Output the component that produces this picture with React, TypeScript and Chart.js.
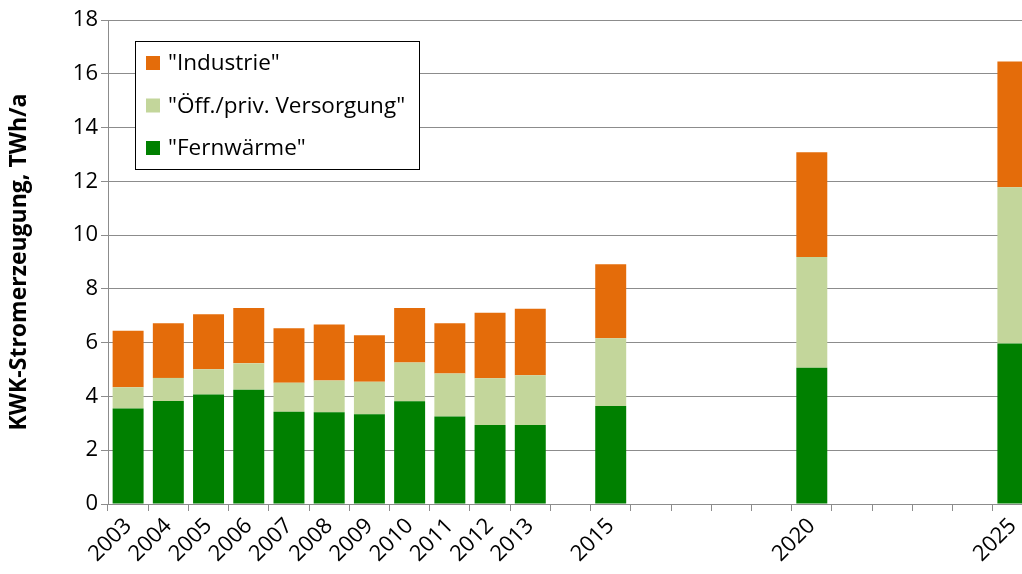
import React, { useEffect, useRef } from "react";
import { Chart, registerables } from "chart.js";

Chart.register(...registerables);

const years = [
  "2003", "2004", "2005", "2006", "2007", "2008", "2009", "2010", "2011", "2012", "2013",
  "2014", "2015", "2016", "2017", "2018", "2019", "2020", "2021", "2022", "2023", "2024", "2025",
];
const shownYearLabels = [
  "2003", "2004", "2005", "2006", "2007", "2008", "2009", "2010", "2011", "2012", "2013",
  "2015", "2020", "2025",
];
const fernwaerme = [
  3.55, 3.83, 4.07, 4.25, 3.43, 3.41, 3.34, 3.82, 3.25, 2.94, 2.94,
  null, 3.64, null, null, null, null, 5.07, null, null, null, null, 5.97,
];
const versorgung = [
  0.79, 0.86, 0.94, 0.98, 1.08, 1.18, 1.21, 1.44, 1.6, 1.74, 1.85,
  null, 2.52, null, null, null, null, 4.12, null, null, null, null, 5.81,
];
const industrie = [
  2.1, 2.03, 2.05, 2.06, 2.03, 2.09, 1.73, 2.03, 1.87, 2.43, 2.47,
  null, 2.76, null, null, null, null, 3.89, null, null, null, null, 4.68,
];
const seriesNames = ['"Fernwärme"', '"Öff./priv. Versorgung"', '"Industrie"'];
const seriesColors = ["#008000", "#C3D69B", "#E46C0A"];
const yAxisTitle = "KWK-Stromerzeugung, TWh/a";

const FONT = "'Open Sans', sans-serif";
const GRID = "#8c8c8c";

const legendBoxPlugin = {
  id: "legendBox",
  afterDraw(chart: any) {
    const ctx = chart.ctx;
    ctx.save();
    const x = 135.5, y = 41.5, w = 284, h = 128;
    ctx.fillStyle = "#ffffff";
    ctx.fillRect(x, y, w, h);
    ctx.strokeStyle = "#000000";
    ctx.lineWidth = 1;
    ctx.strokeRect(x, y, w, h);
    const items = [...chart.data.datasets].reverse();
    const rows = [63, 105.5, 148];
    items.forEach((ds: any, i: number) => {
      ctx.fillStyle = ds.backgroundColor;
      ctx.fillRect(146, rows[i] - 7, 14, 14);
      ctx.fillStyle = "#000000";
      ctx.font = `22.5px ${FONT}`;
      ctx.textBaseline = "middle";
      ctx.textAlign = "left";
      ctx.fillText(ds.label, 168, rows[i] + 1);
    });
    ctx.restore();
  },
};

export default function App() {
  const canvasRef = useRef<HTMLCanvasElement | null>(null);

  useEffect(() => {
    if (!canvasRef.current) return;
    const values = [fernwaerme, versorgung, industrie];
    const chart = new Chart(canvasRef.current, {
      type: "bar",
      data: {
        labels: years,
        datasets: values.map((v, i) => ({
          label: seriesNames[i],
          data: v,
          backgroundColor: seriesColors[i],
          borderWidth: 0,
          barPercentage: 0.77,
          categoryPercentage: 1,
        })),
      },
      options: {
        responsive: false,
        animation: false,
        devicePixelRatio: 1,
        layout: { padding: { top: 20, right: 7, left: 0, bottom: 0 } },
        plugins: {
          legend: { display: false },
          tooltip: { enabled: false },
        },
        scales: {
          x: {
            stacked: true,
            offset: true,
            grid: {
              offset: true,
              drawOnChartArea: false,
              drawTicks: true,
              tickLength: 7,
              color: GRID,
            },
            border: { color: GRID },
            ticks: {
              autoSkip: false,
              maxRotation: 45,
              minRotation: 45,
              padding: 2,
              color: "#000",
              font: { family: FONT, size: 22 },
              callback: (_v: any, i: number) =>
                shownYearLabels.includes(years[i]) ? years[i] : "",
            },
            afterFit: (s: any) => {
              s.height = 70;
            },
          },
          y: {
            stacked: true,
            min: 0,
            max: 18,
            ticks: {
              stepSize: 2,
              color: "#000",
              font: { family: FONT, size: 22 },
            },
            grid: { color: GRID, tickLength: 7 },
            border: { color: GRID },
            title: {
              display: true,
              text: yAxisTitle,
              color: "#000",
              padding: { top: 6, bottom: 0 },
              font: { family: FONT, size: 23, weight: "bold" },
            },
            afterFit: (s: any) => {
              s.width = 108;
            },
          },
        },
      },
      plugins: [legendBoxPlugin],
    });
    return () => chart.destroy();
  }, []);

  return (
    <div
      style={{
        position: "fixed",
        left: 0,
        top: 0,
        width: 1022,
        height: 574,
        overflow: "hidden",
        background: "#fff",
      }}
    >
      <canvas ref={canvasRef} width={1040} height={574} style={{ display: "block" }} />
    </div>
  );
}
